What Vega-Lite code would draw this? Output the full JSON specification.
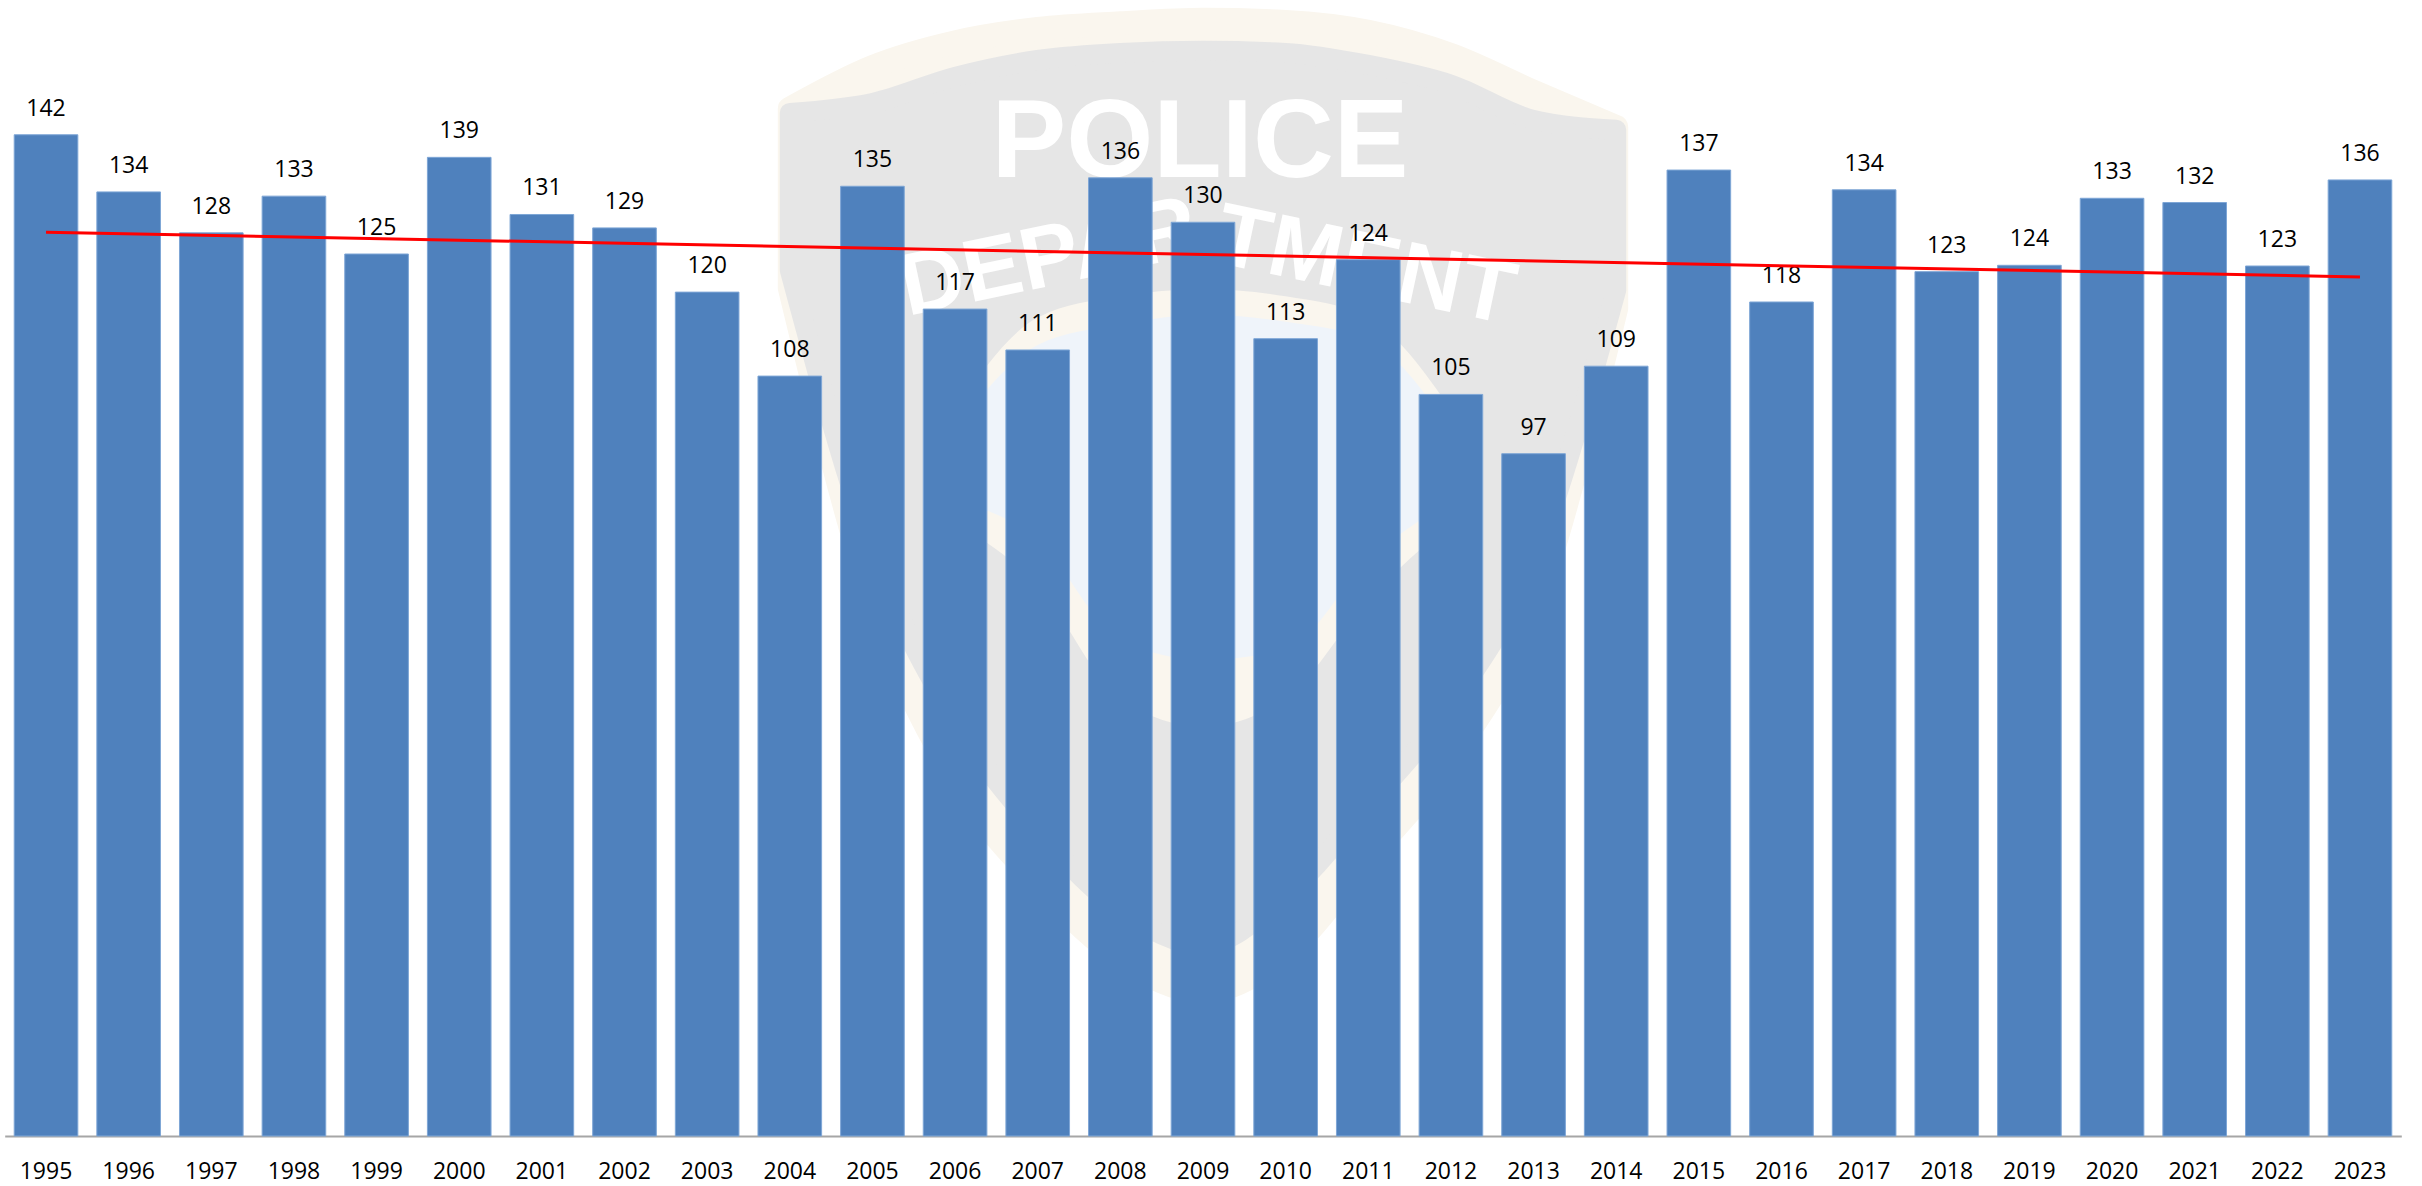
{
 "$schema":"https://vega.github.io/schema/vega-lite/v6.json",
 "width":2396.6,"height":1136,
 "autosize":"none",
 "padding":{"left":4.7,"top":0,"right":20.7,"bottom":50},
 "background":"#ffffff",
 "config":{"view":{"stroke":null}},
 "datasets":{
  "bars":[
 {"year":1995,"count":142,"bar":141.9},{"year":1996,"count":134,"bar":133.8},{"year":1997,"count":128,"bar":128.0},{"year":1998,"count":133,"bar":133.2},{"year":1999,"count":125,"bar":125.0},{"year":2000,"count":139,"bar":138.7},{"year":2001,"count":131,"bar":130.6},{"year":2002,"count":129,"bar":128.7},{"year":2003,"count":120,"bar":119.6},{"year":2004,"count":108,"bar":107.7},{"year":2005,"count":135,"bar":134.6},{"year":2006,"count":117,"bar":117.2},{"year":2007,"count":111,"bar":111.4},{"year":2008,"count":136,"bar":135.8},{"year":2009,"count":130,"bar":129.5},{"year":2010,"count":113,"bar":113.0},{"year":2011,"count":124,"bar":124.2},{"year":2012,"count":105,"bar":105.1},{"year":2013,"count":97,"bar":96.7},{"year":2014,"count":109,"bar":109.1},{"year":2015,"count":137,"bar":136.9},{"year":2016,"count":118,"bar":118.2},{"year":2017,"count":134,"bar":134.1},{"year":2018,"count":123,"bar":122.5},{"year":2019,"count":124,"bar":123.4},{"year":2020,"count":133,"bar":132.9},{"year":2021,"count":132,"bar":132.3},{"year":2022,"count":123,"bar":123.3},{"year":2023,"count":136,"bar":135.5}
  ],
  "shield":[
 {"year":2004,"outerTop":145.6,"outerBottom":120.2,"innerTop":145,"innerBottom":122.7},
 {"year":2005,"outerTop":151.5,"outerBottom":76.2,"innerTop":146.4,"innerBottom":83},
 {"year":2006,"outerTop":155,"outerBottom":50.7,"innerTop":150.1,"innerBottom":58.9},
 {"year":2007,"outerTop":156.9,"outerBottom":35.9,"innerTop":152.5,"innerBottom":43.3},
 {"year":2008,"outerTop":157.7,"outerBottom":25.2,"innerTop":153.5,"innerBottom":32},
 {"year":2009,"outerTop":158.2,"outerBottom":20.5,"innerTop":153.8,"innerBottom":27.1},
 {"year":2010,"outerTop":157.9,"outerBottom":25.9,"innerTop":153.5,"innerBottom":34.1},
 {"year":2011,"outerTop":156.5,"outerBottom":39.4,"innerTop":151.8,"innerBottom":46.9},
 {"year":2012,"outerTop":153.2,"outerBottom":53.6,"innerTop":149,"innerBottom":61.1},
 {"year":2013,"outerTop":148,"outerBottom":74.8,"innerTop":144,"innerBottom":81.6},
 {"year":2014,"outerTop":143,"outerBottom":117.3,"innerTop":142.6,"innerBottom":119.9}
  ],
  "disc":[
 {"year":2006,"ringTop":103,"ringBottom":87,"top":100.1,"bottom":90.1},
 {"year":2007,"ringTop":116,"ringBottom":78,"top":112.1,"bottom":84.5},
 {"year":2008,"ringTop":119,"ringBottom":62,"top":115,"bottom":70.3},
 {"year":2009,"ringTop":120,"ringBottom":58,"top":116.4,"bottom":67.5},
 {"year":2010,"ringTop":119,"ringBottom":62,"top":115.4,"bottom":68.9},
 {"year":2011,"ringTop":116,"ringBottom":76,"top":112.8,"bottom":81.6},
 {"year":2012,"ringTop":103,"ringBottom":87,"top":100.1,"bottom":90.1}
  ]
 },
 "data":{"name":"bars"},
 "encoding":{
  "x":{"field":"year","type":"ordinal","title":null,"scale":{"paddingInner":0.23,"paddingOuter":0.115},
   "axis":{"labelAngle":0,"labelFont":"Open Sans","labelFontSize":23,"labelColor":"#000000","labelPadding":24,"ticks":false,"domainColor":"#a6a6a6","domainWidth":2,"grid":false}},
  "y":{"field":"bar","type":"quantitative","title":null,"scale":{"domain":[0,161],"nice":false},"axis":null}
 },
 "layer":[
  {"data":{"name":"shield"},"mark":{"type":"area","color":"#faf6ee","stroke":"#faf6ee","strokeWidth":24,"strokeJoin":"round","interpolate":"monotone"},"encoding":{"y":{"field":"outerTop","type":"quantitative"},"y2":{"field":"outerBottom"}}},
  {"data":{"name":"shield"},"mark":{"type":"area","color":"#e6e6e6","stroke":"#e6e6e6","strokeWidth":20,"strokeJoin":"round","interpolate":"monotone"},"encoding":{"y":{"field":"innerTop","type":"quantitative"},"y2":{"field":"innerBottom"}}},
  {"data":{"name":"disc"},"mark":{"type":"area","color":"#faf6ee","interpolate":"monotone"},"encoding":{"y":{"field":"ringTop","type":"quantitative"},"y2":{"field":"ringBottom"}}},
  {"data":{"name":"disc"},"mark":{"type":"area","color":"#eff4fa","interpolate":"monotone"},"encoding":{"y":{"field":"top","type":"quantitative"},"y2":{"field":"bottom"}}},
  {"data":{"values":[{"year":2009,"at":140.7,"word":"POLICE"}]},"mark":{"type":"text","font":"Liberation Sans","fontWeight":"bold","fontSize":112,"color":"#ffffff","baseline":"middle","dx":-3},"encoding":{"y":{"field":"at","type":"quantitative"},"text":{"field":"word"}}},
  {"data":{"values":[{"year":2007,"at":123.9,"word":"DEPAR"}]},"mark":{"type":"text","font":"Liberation Sans","fontWeight":"bold","fontSize":88,"color":"#ffffff","baseline":"middle","angle":-12,"dx":12},"encoding":{"y":{"field":"at","type":"quantitative"},"text":{"field":"word"}}},
  {"data":{"values":[{"year":2011,"at":123,"word":"TMENT"}]},"mark":{"type":"text","font":"Liberation Sans","fontWeight":"bold","fontSize":88,"color":"#ffffff","baseline":"middle","angle":12,"dx":-3},"encoding":{"y":{"field":"at","type":"quantitative"},"text":{"field":"word"}}},
  {"mark":{"type":"bar","color":"#4f81bd","stroke":"#7ea6d6","strokeWidth":1}},
  {"mark":{"type":"text","font":"Open Sans","fontSize":23,"color":"#000000","baseline":"bottom","dy":-14},"encoding":{"text":{"field":"count","type":"quantitative"}}},
  {"transform":[{"regression":"bar","on":"year"}],"mark":{"type":"line","color":"#ff0000","strokeWidth":3},"encoding":{"x":{"field":"year","type":"ordinal"},"y":{"field":"bar","type":"quantitative"}}}
 ]
}
